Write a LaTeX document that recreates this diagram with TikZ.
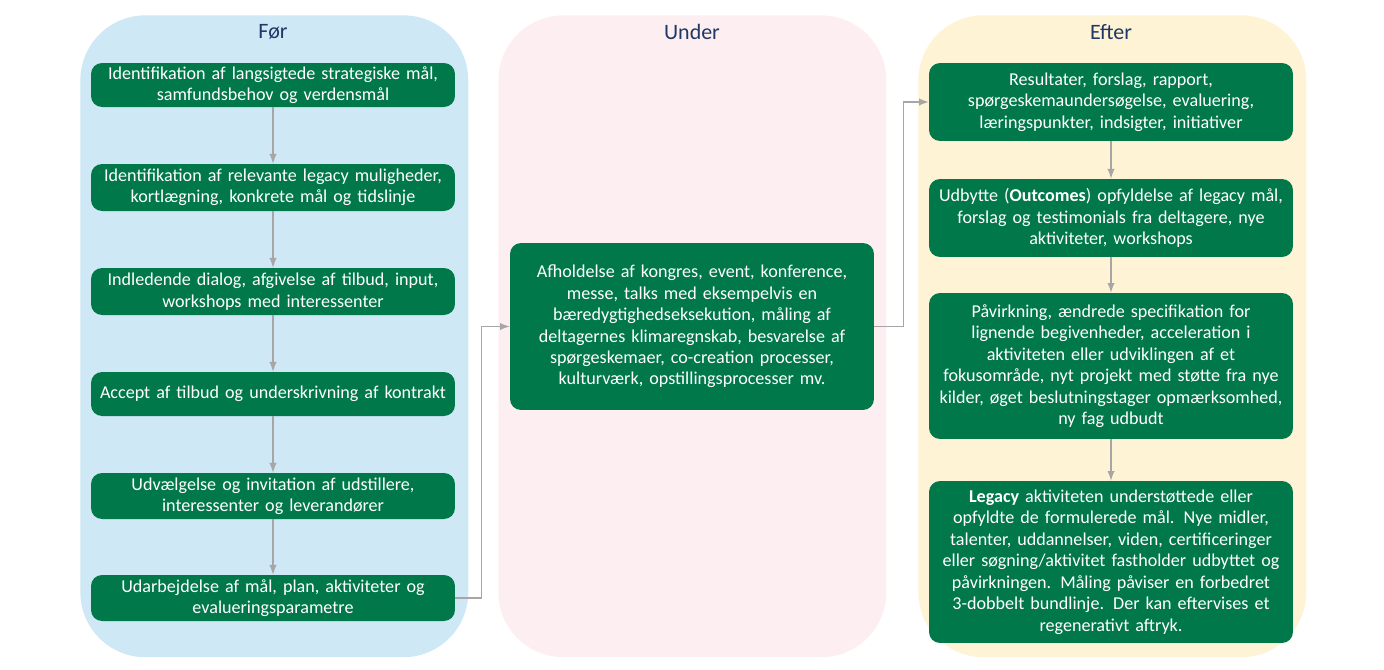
\documentclass[tikz,border=0pt]{standalone}
\usepackage{fontspec}
\setmainfont{Carlito}
\usetikzlibrary{positioning}
\definecolor{forbg}{HTML}{CFE8F5}
\definecolor{underbg}{HTML}{FDEFF1}
\definecolor{efterbg}{HTML}{FFF3D6}
\definecolor{boxgreen}{HTML}{00784A}
\definecolor{titleblue}{HTML}{1F3864}
\definecolor{arrowgrey}{HTML}{A6A6A6}
\tikzset{
  panel/.style={rounded corners=1.3cm, minimum width=7.76cm, minimum height=12.84cm, anchor=north west},
  phasetitle/.style={text=titleblue, font=\fontsize{12.5}{14}\selectfont},
  stage/.style={fill=boxgreen, text=white, rounded corners=0.22cm, align=center,
    font=\fontsize{10.3}{12.2}\selectfont, inner sep=0pt, text width=7.1cm, minimum width=7.28cm},
  flow/.style={draw=arrowgrey, line width=0.9pt, -latex}
}
\begin{document}
\begin{tikzpicture}[x=0.02cm, y=-0.02cm]
  \useasboundingbox (0,0) rectangle (1384,670);
  % panels
  \node[panel, fill=forbg] (for) at (80,15) {};
  \node[panel, fill=underbg] (under) at (498,15) {};
  \node[panel, fill=efterbg] (efter) at (918,15) {};
  \node[phasetitle] (fortitle) at (273,32) {Før};
  \node[phasetitle] (undertitle) at (692,32) {Under};
  \node[phasetitle] (eftertitle) at (1111,32) {Efter};

  % Før
  \node[stage, minimum height=0.88cm] (f1) at (273,85) {Identifikation af langsigtede strategiske mål,\\samfundsbehov og verdensmål};
  \node[stage, minimum height=0.94cm] (f2) at (273,187.5) {Identifikation af relevante legacy muligheder,\\kortlægning, konkrete mål og tidslinje};
  \node[stage, minimum height=0.94cm] (f3) at (273,291.5) {Indledende dialog, afgivelse af tilbud, input,\\workshops med interessenter};
  \node[stage, minimum height=0.88cm] (f4) at (273,394) {Accept af tilbud og underskrivning af kontrakt};
  \node[stage, minimum height=0.92cm] (f5) at (273,496) {Udvælgelse og invitation af udstillere,\\interessenter og leverandører};
  \node[stage, minimum height=0.92cm] (f6) at (273,598) {Udarbejdelse af mål, plan, aktiviteter og\\evalueringsparametre};

  % Under
  \node[stage, minimum height=3.34cm] (u1) at (692,326.5) {Afholdelse af kongres, event, konference,\\messe, talks med eksempelvis en\\bæredygtighedseksekution, måling af\\deltagernes klimaregnskab, besvarelse af\\spørgeskemaer, co-creation processer,\\kulturværk, opstillingsprocesser mv.};

  % Efter
  \node[stage, minimum height=1.56cm] (e1) at (1111,102) {Resultater, forslag, rapport,\\spørgeskemaundersøgelse, evaluering,\\læringspunkter, indsigter, initiativer};
  \node[stage, minimum height=1.56cm] (e2) at (1111,218) {Udbytte (\textbf{Outcomes}) opfyldelse af legacy mål,\\forslag og testimonials fra deltagere, nye\\aktiviteter, workshops};
  \node[stage, minimum height=2.92cm] (e3) at (1111,366) {Påvirkning, ændrede specifikation for\\lignende begivenheder, acceleration i\\aktiviteten eller udviklingen af et\\fokusområde, nyt projekt med støtte fra nye\\kilder, øget beslutningstager opmærksomhed,\\ny fag udbudt};
  \node[stage, minimum height=3.24cm] (e4) at (1111,562) {\textbf{Legacy} aktiviteten understøttede eller\\opfyldte de formulerede mål. Nye midler,\\talenter, uddannelser, viden, certificeringer\\eller søgning/aktivitet fastholder udbyttet og\\påvirkningen. Måling påviser en forbedret\\3-dobbelt bundlinje. Der kan eftervises et\\regenerativt aftryk.};

  % connectors
  \foreach \a/\b in {f1/f2, f2/f3, f3/f4, f4/f5, f5/f6, e1/e2, e2/e3, e3/e4}
    \draw[flow] (\a) -- (\b);
  \draw[flow] (f6.east) -- ++(26,0) |- (u1.west);
  \draw[flow] (u1.east) -- ++(29,0) |- (e1.west);
\end{tikzpicture}
\end{document}
